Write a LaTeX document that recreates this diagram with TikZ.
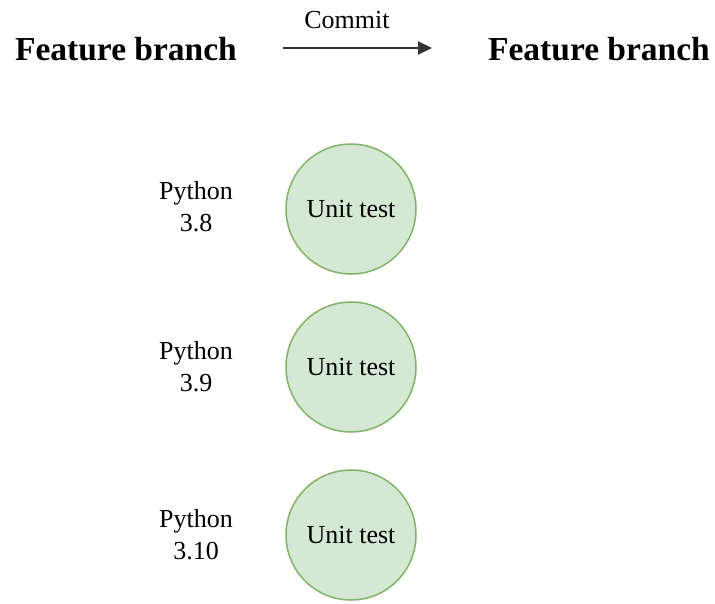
\documentclass[tikz,border=0pt]{standalone}
\usepackage{fontspec}
\setmainfont{Liberation Serif}
\usetikzlibrary{arrows.meta}
\definecolor{gfill}{HTML}{D5E8D4}
\definecolor{gdraw}{HTML}{82B366}
\definecolor{arr}{HTML}{333333}
\begin{document}
\begin{tikzpicture}[x=1pt,y=-1pt,
  title/.style={font=\fontsize{33.5}{40}\selectfont\bfseries, inner sep=0pt},
  lbl/.style={font=\fontsize{26}{30}\selectfont, align=center, inner sep=0pt},
  utest/.style={circle, draw=gdraw, fill=gfill, line width=1.5pt, minimum size=130pt, inner sep=0pt, font=\fontsize{26}{30}\selectfont}]
\useasboundingbox (0,0) rectangle (715,603);
\node[title] (fb1) at (126,49) {Feature branch};
\node[title] (fb2) at (599,49) {Feature branch};
\coordinate (a1) at (283,48);
\coordinate (a2) at (432,48);
\draw[arr, line width=2pt, -{Triangle[length=14pt,width=13pt]}] (a1) -- (a2);
\node[lbl] (commit) at (347,20) {Commit};
\node[utest] (u1) at (351,209) {Unit test};
\node[utest] (u2) at (351,367) {Unit test};
\node[utest] (u3) at (351,535) {Unit test};
\node[lbl] (p1) at (196,207) {Python\\[2pt]3.8};
\node[lbl] (p2) at (196,367) {Python\\[2pt]3.9};
\node[lbl] (p3) at (196,535) {Python\\[2pt]3.10};
\end{tikzpicture}
\end{document}
